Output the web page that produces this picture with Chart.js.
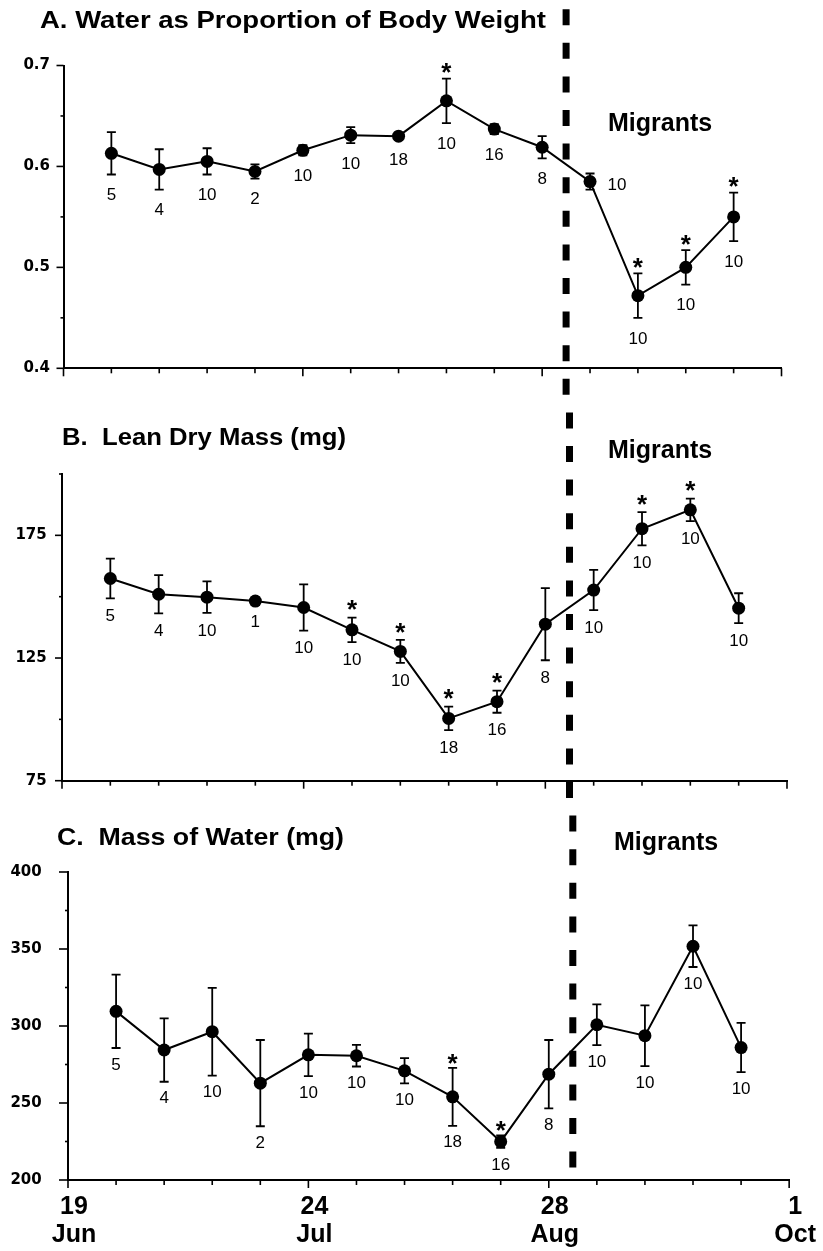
<!DOCTYPE html>
<html><head><meta charset="utf-8">
<script src="https://cdn.jsdelivr.net/npm/chart.js@4"></script>
<style>
html,body{margin:0;padding:0;background:#fff;}
#wrap{position:relative;width:823px;height:1251px;overflow:hidden;background:#fff;}
canvas{position:absolute;left:0;}
</style></head><body>
<div id="wrap">
<canvas id="cA" width="823" height="395" style="top:0px"></canvas>
<canvas id="cB" width="823" height="410" style="top:395px"></canvas>
<canvas id="cC" width="823" height="446" style="top:805px"></canvas>
</div>
<script>
// ---------- data ----------
const weeks = [1,2,3,4,5,6,7,8,9,10,11,12,13,14];
const xTickWeeks = [0,5,10,15];
const xTickLabels = [['19','Jun'],['24','Jul'],['28','Aug'],['1','Oct']];
const migrantWeek = 10.5;
const migrantLabel = 'Migrants';
const panelTitles = ['A. Water as Proportion of Body Weight','B.  Lean Dry Mass (mg)','C.  Mass of Water (mg)'];

const waterPropMean = [0.613,0.597,0.605,0.595,0.616,0.631,0.630,0.665,0.637,0.619,0.585,0.472,0.500,0.550];
const waterPropSE   = [0.021,0.020,0.013,0.007,0.005,0.008,0.003,0.022,0.005,0.011,0.008,0.022,0.017,0.024];
const waterPropN    = [5,4,10,2,10,10,18,10,16,8,10,10,10,10];
const waterPropSig  = [0,0,0,0,0,0,0,1,0,0,0,1,1,1];
const waterPropTicks = [0.4,0.5,0.6,0.7];
const waterPropTickText = ['0.4','0.5','0.6','0.7'];

const leanMean = [157.4,151.0,149.8,148.2,145.6,136.5,127.7,100.4,107.2,138.8,152.7,177.7,185.4,145.3];
const leanSE   = [8.1,7.8,6.4,1.5,9.4,5.0,4.7,4.8,4.5,14.7,8.2,6.8,4.6,6.1];
const leanN    = [5,4,10,1,10,10,10,18,16,8,10,10,10,10];
const leanSig  = [0,0,0,0,0,1,1,1,1,0,0,1,1,0];
const leanTicks = [75,125,175];
const leanTickText = ['75','125','175'];

const waterMassMean = [309.5,284.4,296.3,262.9,281.3,280.7,270.9,254.0,224.9,268.7,300.8,293.7,351.8,286.0];
const waterMassSE   = [23.8,20.6,28.5,28.0,13.8,7.0,8.2,18.8,4.0,22.2,13.2,19.7,13.5,16.0];
const waterMassN    = [5,4,10,2,10,10,10,18,16,8,10,10,10,10];
const waterMassSig  = [0,0,0,0,0,0,0,1,1,0,0,0,0,0];
const waterMassTicks = [200,250,300,350,400];
const waterMassTickText = ['200','250','300','350','400'];

// ---------- layout (positions / styles) ----------
const panels = {
  cA: {top:0, mean:waterPropMean, se:waterPropSE, n:waterPropN, sig:waterPropSig,
       yMin:0.4, yMax:0.7, yStep:0.05, yTicks:waterPropTicks, yText:waterPropTickText,
       area:{left:63.5, right:781.5, top:65.5, bottom:368.3}, yPad:13.5, yMajor:7,
       xLabels:false, nGap:21, starGap:12,
       nSide:['b','b','b','b','b','b','b','b','b','b','r','b','b','b'],
       title:{text:panelTitles[0], x:40, base:28, w:506},
       mig:{x:608, base:131}, dash:{from:9.2, to:395}},
  cB: {top:395, mean:leanMean, se:leanSE, n:leanN, sig:leanSig,
       yMin:75, yMax:200, yStep:25, yTicks:leanTicks, yText:leanTickText,
       area:{left:62, right:787, top:474, bottom:784}, yPad:15.3, yMajor:7,
       xLabels:false, nGap:18, starGap:14,
       nSide:Array(14).fill('b'),
       title:{text:panelTitles[1], x:62, base:445, w:284},
       mig:{x:608, base:458}, dash:{from:395, to:805}},
  cC: {top:805, mean:waterMassMean, se:waterMassSE, n:waterMassN, sig:waterMassSig,
       yMin:200, yMax:400, yStep:25, yTicks:waterMassTicks, yText:waterMassTickText,
       area:{left:68, right:793, top:872, bottom:1180}, yPad:26.3, yMajor:9,
       xLabels:true, nGap:17, starGap:11,
       nSide:Array(14).fill('b'),
       title:{text:panelTitles[2], x:57, base:845, w:287},
       mig:{x:614, base:850}, dash:{from:805, to:1173}}
};

function near(a,b){return Math.abs(a-b)<1e-6;}

const decor = {
  id:'decor',
  beforeDatasetsDraw(chart){
    const p = panels[chart.canvas.id];
    const ctx = chart.ctx, xs = chart.scales.x, ys = chart.scales.y;
    ctx.save();
    ctx.strokeStyle='#000'; ctx.lineWidth=1.8;
    weeks.forEach((w,i)=>{
      const x = xs.getPixelForValue(w);
      const yt = ys.getPixelForValue(p.mean[i]+p.se[i]);
      const yb = ys.getPixelForValue(p.mean[i]-p.se[i]);
      ctx.beginPath();
      ctx.moveTo(x,yt); ctx.lineTo(x,yb);
      ctx.moveTo(x-4.5,yt); ctx.lineTo(x+4.5,yt);
      ctx.moveTo(x-4.5,yb); ctx.lineTo(x+4.5,yb);
      ctx.stroke();
    });
    ctx.restore();
  },
  afterDraw(chart){
    const p = panels[chart.canvas.id];
    const ctx = chart.ctx, xs = chart.scales.x, ys = chart.scales.y, ca = chart.chartArea;
    ctx.save();
    ctx.strokeStyle='#000'; ctx.fillStyle='#000'; ctx.lineWidth=1.6;
    // y tick marks
    ys.ticks.forEach(t=>{
      const y = ys.getPixelForValue(t.value);
      const major = p.yTicks.some(v=>near(v,t.value));
      const len = major ? p.yMajor : 3;
      ctx.beginPath(); ctx.moveTo(ca.left-len,y); ctx.lineTo(ca.left,y); ctx.stroke();
    });
    // x tick marks
    xs.ticks.forEach(t=>{
      const x = xs.getPixelForValue(t.value);
      const len = xTickWeeks.some(v=>near(v,t.value)) ? 8 : 5;
      ctx.beginPath(); ctx.moveTo(x,ca.bottom); ctx.lineTo(x,ca.bottom+len); ctx.stroke();
    });
    // sample sizes and significance stars
    weeks.forEach((w,i)=>{
      const x = xs.getPixelForValue(w);
      const yc = ys.getPixelForValue(p.mean[i]);
      const yt = ys.getPixelForValue(p.mean[i]+p.se[i]);
      const yb = ys.getPixelForValue(p.mean[i]-p.se[i]);
      ctx.font = '17px "Liberation Sans", Arial, sans-serif';
      ctx.textBaseline='middle';
      ctx.textAlign='center';
      if (p.nSide[i]==='r'){ ctx.fillText(String(p.n[i]), x+27, yc+4); }
      else { ctx.fillText(String(p.n[i]), x, yb+p.nGap); }
      if (p.sig[i]){
        ctx.font = 'bold 26px "Liberation Sans", Arial, sans-serif';
        ctx.textBaseline='alphabetic';
        ctx.fillText('*', x, yt - p.starGap + 0.57*26);
      }
    });
    // title
    const T = p.title;
    ctx.font = 'bold 23px "Liberation Sans", Arial, sans-serif';
    ctx.textAlign='left'; ctx.textBaseline='alphabetic';
    const tw = ctx.measureText(T.text).width;
    ctx.save(); ctx.translate(T.x, T.base - p.top); ctx.scale(T.w/tw,1); ctx.fillText(T.text,0,0); ctx.restore();
    // Migrants
    ctx.font = 'bold 25px "Liberation Sans", Arial, sans-serif';
    ctx.fillText(migrantLabel, p.mig.x, p.mig.base - p.top);
    // dashed boundary line
    const xm = xs.getPixelForValue(migrantWeek);
    const y0 = p.dash.from - p.top, y1 = p.dash.to - p.top;
    ctx.setLineDash([16,17.6]);
    ctx.lineDashOffset = ((p.dash.from - 9.2) % 33.6);
    ctx.lineWidth = 7; ctx.lineCap='butt';
    ctx.beginPath(); ctx.moveTo(xm,y0); ctx.lineTo(xm,y1); ctx.stroke();
    ctx.restore();
  }
};

function build(id){
  const p = panels[id];
  const canvas = document.getElementById(id);
  const H = canvas.height;
  const a = {left:p.area.left, right:p.area.right, top:p.area.top-p.top, bottom:p.area.bottom-p.top};
  return new Chart(canvas,{
    type:'line',
    data:{datasets:[{
      data: weeks.map((w,i)=>({x:w,y:p.mean[i]})),
      borderColor:'#000', borderWidth:2, tension:0, fill:false,
      pointRadius:6.5, pointHoverRadius:6.5, pointBackgroundColor:'#000', pointBorderWidth:0
    }]},
    options:{
      responsive:false, animation:false, devicePixelRatio:1, events:[],
      layout:{padding:{top:a.top, right:823-a.right, left:0, bottom:0}},
      plugins:{legend:{display:false}, tooltip:{enabled:false}, title:{display:false}},
      scales:{
        x:{type:'linear', min:0, max:15,
           afterFit:s=>{s.height = H - a.bottom;},
           grid:{display:false, drawTicks:false},
           border:{display:true, color:'#000', width:2},
           ticks:{stepSize:1, autoSkip:false, maxRotation:0, minRotation:0, display:p.xLabels,
                  padding:13, labelOffset:6, color:'#000',
                  font:{family:'"Liberation Sans", Arial, sans-serif', weight:'bold', size:25, lineHeight:1.12},
                  callback:v=>{const k = xTickWeeks.findIndex(t=>near(t,v)); return k>=0 ? xTickLabels[k] : '';}}},
        y:{type:'linear', min:p.yMin, max:p.yMax,
           afterFit:s=>{s.width = a.left;},
           grid:{display:false, drawTicks:false},
           border:{display:true, color:'#000', width:2},
           ticks:{stepSize:p.yStep, autoSkip:false, padding:p.yPad, color:'#000',
                  font:{family:'"DejaVu Sans", sans-serif', weight:'bold', size:15},
                  callback:v=>{const k = p.yTicks.findIndex(t=>near(t,v)); return k>=0 ? p.yText[k] : '';}}}
      }
    },
    plugins:[decor]
  });
}
build('cA'); build('cB'); build('cC');
</script>
</body></html>
